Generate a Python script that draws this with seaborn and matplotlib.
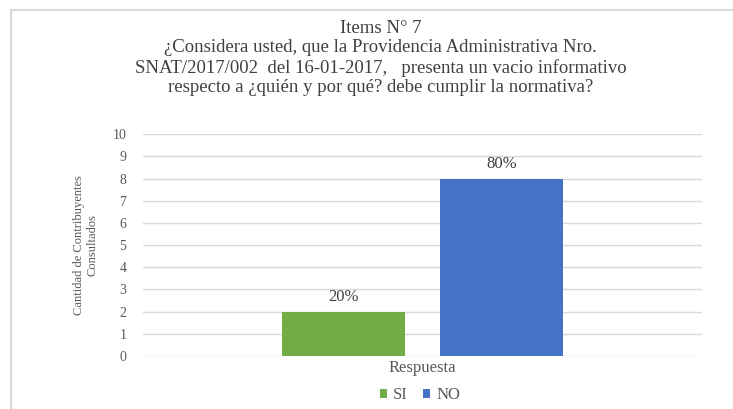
import matplotlib
matplotlib.use("Agg")
import matplotlib.pyplot as plt
import seaborn as sns
import pandas as pd
from matplotlib.lines import Line2D
from matplotlib.patches import Patch

categories = ["SI", "NO"]
values = [2, 8]
percent_labels = ["20%", "80%"]
group_label = "Respuesta"
yticks = list(range(0, 11))
colors = ["#70AD47", "#4472C4"]
title = ("Items N° 7\n¿Considera usted, que la Providencia Administrativa Nro.\n"
         "SNAT/2017/002  del 16-01-2017,   presenta un vacio informativo\n"
         "respecto a ¿quién y por qué? debe cumplir la normativa?")
ylabel = "Cantidad de Contribuyentes\nConsultados"

sns.set_theme(style="white")
plt.rcParams['font.family'] = ['Liberation Serif', 'DejaVu Serif']

df = pd.DataFrame({"grupo": [group_label] * len(categories),
                   "respuesta": categories, "valor": values})

fig = plt.figure(figsize=(7.33, 4.09), dpi=100)
ax = fig.add_axes([0.195, 0.1296, 0.763, 0.5424])
sns.barplot(data=df, x="grupo", y="valor", hue="respuesta", hue_order=categories,
            palette=colors, width=0.566, gap=0.22, legend=False, ax=ax,
            saturation=1, edgecolor="none")
ax.set_ylim(0, 10)
ax.set_xlim(-0.5, 0.5)
ax.set_yticks(yticks)
ax.set_yticklabels([str(t) for t in yticks], fontsize=10, color="#595959")
ax.tick_params(axis="y", length=0, pad=12)
ax.tick_params(axis="x", length=0, pad=3)
ax.set_xticks([0])
ax.set_xticklabels([group_label], fontsize=12, color="#595959")
ax.yaxis.grid(True, color="#d9d9d9", linewidth=1)
ax.set_axisbelow(True)
for s in ax.spines.values():
    s.set_visible(False)
ax.set_xlabel("")
ax.set_ylabel(ylabel, fontsize=9, color="#595959", fontstretch="condensed", labelpad=10)

for cont, lab in zip(ax.containers, percent_labels):
    ax.bar_label(cont, labels=[lab], padding=5, fontsize=12, color="#404040")

fig.text(0.519, 0.952, title, ha="center", va="top", fontsize=13.5, color="#404040",
         linespacing=1.2)

handles = [Patch(facecolor=c, edgecolor="none") for c in colors]
fig.legend(handles, categories, loc="center", bbox_to_anchor=(0.573, 0.034), ncol=2,
           frameon=False, fontsize=12, handlelength=0.45, handleheight=0.45,
           handletextpad=0.35, columnspacing=0.9, labelcolor="#595959")

fig.add_artist(Line2D([0.015, 0.015], [0.0, 0.975], transform=fig.transFigure,
                      color="#d9d9d9", linewidth=1.5))
fig.add_artist(Line2D([0.015, 1.0], [0.975, 0.975], transform=fig.transFigure,
                      color="#d9d9d9", linewidth=1.5))

fig.savefig("out.png", dpi=100)
